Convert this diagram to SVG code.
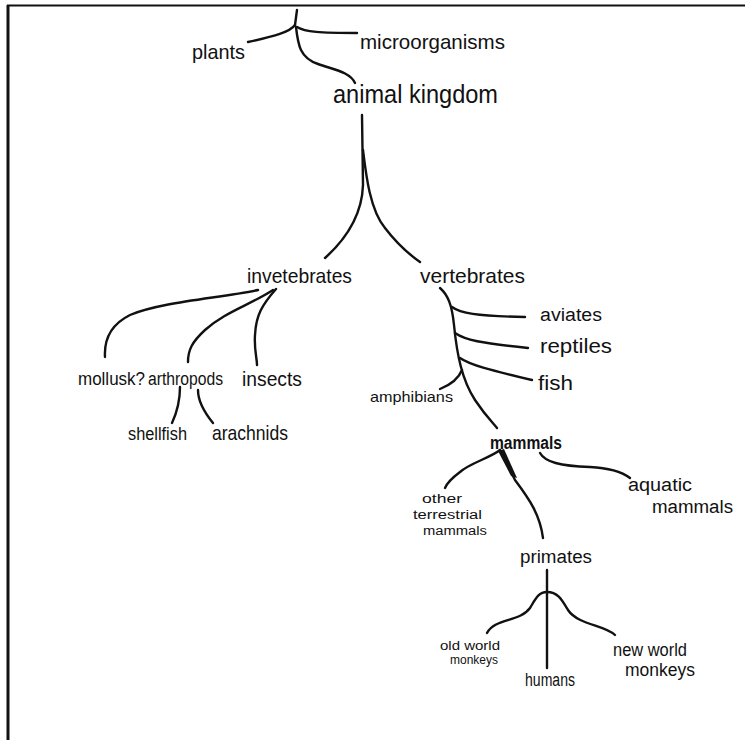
<svg xmlns="http://www.w3.org/2000/svg" width="745" height="740" viewBox="0 0 745 740">
<style>
.e{fill:none;stroke:#111;stroke-width:2.4;stroke-linecap:round;stroke-linejoin:round}
.t{font-family:"Liberation Sans","DejaVu Sans",sans-serif;fill:#111}
.b{font-size:21px}
.m{font-size:18px}
.s{font-size:12px}
</style>
<rect width="745" height="740" fill="#fff"/>
<g id="frame">
<line x1="7" y1="5.5" x2="745" y2="5.5" stroke="#111" stroke-width="2.2"/>
<line x1="8" y1="5" x2="8" y2="740" stroke="#111" stroke-width="3"/>
</g>
<g id="connectors">
<path class="e" d="M297,10 L295,25"/>
<path class="e" d="M295,25 C290,32 275,36 248,42"/>
<path class="e" d="M297,27 C305,32 320,33 357,33"/>
<path class="e" d="M296,27 C298,45 300,58 318,64 C335,70 350,72 355,83"/>
<path class="e" d="M362,115 L363,185 C362,215 345,240 325,258"/>
<path class="e" d="M363,150 C366,175 370,210 385,228 C398,245 410,255 420,262"/>
<path class="e" d="M258,290 C220,298 160,302 130,315 C110,325 104,340 105,357"/>
<path class="e" d="M273,290 C250,305 225,312 205,330 C192,342 188,350 188,362"/>
<path class="e" d="M276,289 C262,305 256,315 255,335 C254,350 257,358 257,365"/>
<path class="e" d="M180,387 C180,400 178,410 172,423"/>
<path class="e" d="M198,390 C198,402 204,412 213,423"/>
<path class="e" d="M440,288 C448,295 452,305 454,325 C457,355 462,380 475,400 C485,415 492,422 497,428"/>
<path class="e" d="M452,307 C460,313 475,316 525,317"/>
<path class="e" d="M455,333 C465,340 480,343 528,348"/>
<path class="e" d="M460,358 C470,365 490,370 532,380"/>
<path class="e" d="M462,370 C458,380 450,385 440,389"/>
<path class="e" d="M500,450 C490,458 470,463 460,472 C452,478 447,483 445,488"/>
<path class="e" d="M500,450 C505,460 510,470 515,480 C530,500 540,515 543,538"/>
<path d="M498,451 L504,449 L517,478 L511,476 Z" fill="#111"/>
<path class="e" d="M540,453 C545,462 560,466 590,467 C610,468 622,472 630,478"/>
<path class="e" d="M547,570 L547,668"/>
<path class="e" d="M547,592 C538,592 535,600 530,608 C520,622 495,618 487,633"/>
<path class="e" d="M547,592 C558,592 562,600 568,610 C578,625 605,625 615,635"/>
</g>
<g id="plants"><text class="t b" x="192" y="59" textLength="53" lengthAdjust="spacingAndGlyphs">plants</text></g>
<g id="microorganisms"><text class="t b" x="360" y="49" textLength="145" lengthAdjust="spacingAndGlyphs">microorganisms</text></g>
<g id="animal-kingdom"><text class="t" x="333" y="103" font-size="25" textLength="165" lengthAdjust="spacingAndGlyphs">animal kingdom</text></g>
<g id="invetebrates"><text class="t b" x="247" y="283" textLength="105" lengthAdjust="spacingAndGlyphs">invetebrates</text></g>
<g id="vertebrates"><text class="t b" x="420" y="283" textLength="105" lengthAdjust="spacingAndGlyphs">vertebrates</text></g>
<g id="mollusk"><text class="t m" x="78" y="385" textLength="67" lengthAdjust="spacingAndGlyphs">mollusk?</text></g>
<g id="arthropods"><text class="t m" x="148" y="385" textLength="75" lengthAdjust="spacingAndGlyphs">arthropods</text></g>
<g id="insects"><text class="t b" x="242" y="386" textLength="60" lengthAdjust="spacingAndGlyphs">insects</text></g>
<g id="shellfish"><text class="t m" x="128" y="440" textLength="59" lengthAdjust="spacingAndGlyphs">shellfish</text></g>
<g id="arachnids"><text class="t b" x="212" y="440" textLength="76" lengthAdjust="spacingAndGlyphs">arachnids</text></g>
<g id="aviates"><text class="t m" x="540" y="321" textLength="62" lengthAdjust="spacingAndGlyphs">aviates</text></g>
<g id="reptiles"><text class="t b" x="540" y="353" textLength="72" lengthAdjust="spacingAndGlyphs">reptiles</text></g>
<g id="fish"><text class="t b" x="538" y="390" textLength="35" lengthAdjust="spacingAndGlyphs">fish</text></g>
<g id="amphibians"><text class="t" x="370" y="402" font-size="15" textLength="83" lengthAdjust="spacingAndGlyphs">amphibians</text></g>
<g id="mammals"><text class="t m" x="490" y="449" font-weight="bold" textLength="72" lengthAdjust="spacingAndGlyphs">mammals</text></g>
<g id="other-terrestrial-mammals">
<text class="t s" x="422" y="503" textLength="40" lengthAdjust="spacingAndGlyphs">other</text>
<text class="t s" x="413" y="519" textLength="69" lengthAdjust="spacingAndGlyphs">terrestrial</text>
<text class="t s" x="423" y="535" textLength="64" lengthAdjust="spacingAndGlyphs">mammals</text>
</g>
<g id="aquatic-mammals">
<text class="t m" x="628" y="491" textLength="64" lengthAdjust="spacingAndGlyphs">aquatic</text>
<text class="t m" x="652" y="513" textLength="81" lengthAdjust="spacingAndGlyphs">mammals</text>
</g>
<g id="primates"><text class="t m" x="520" y="563" textLength="72" lengthAdjust="spacingAndGlyphs">primates</text></g>
<g id="old-world-monkeys">
<text class="t s" x="440" y="650" textLength="60" lengthAdjust="spacingAndGlyphs">old world</text>
<text class="t s" x="450" y="664" textLength="48" lengthAdjust="spacingAndGlyphs">monkeys</text>
</g>
<g id="humans"><text class="t m" x="525" y="686" textLength="50" lengthAdjust="spacingAndGlyphs">humans</text></g>
<g id="new-world-monkeys">
<text class="t m" x="613" y="656" textLength="74" lengthAdjust="spacingAndGlyphs">new world</text>
<text class="t m" x="625" y="676" textLength="70" lengthAdjust="spacingAndGlyphs">monkeys</text>
</g>
</svg>
